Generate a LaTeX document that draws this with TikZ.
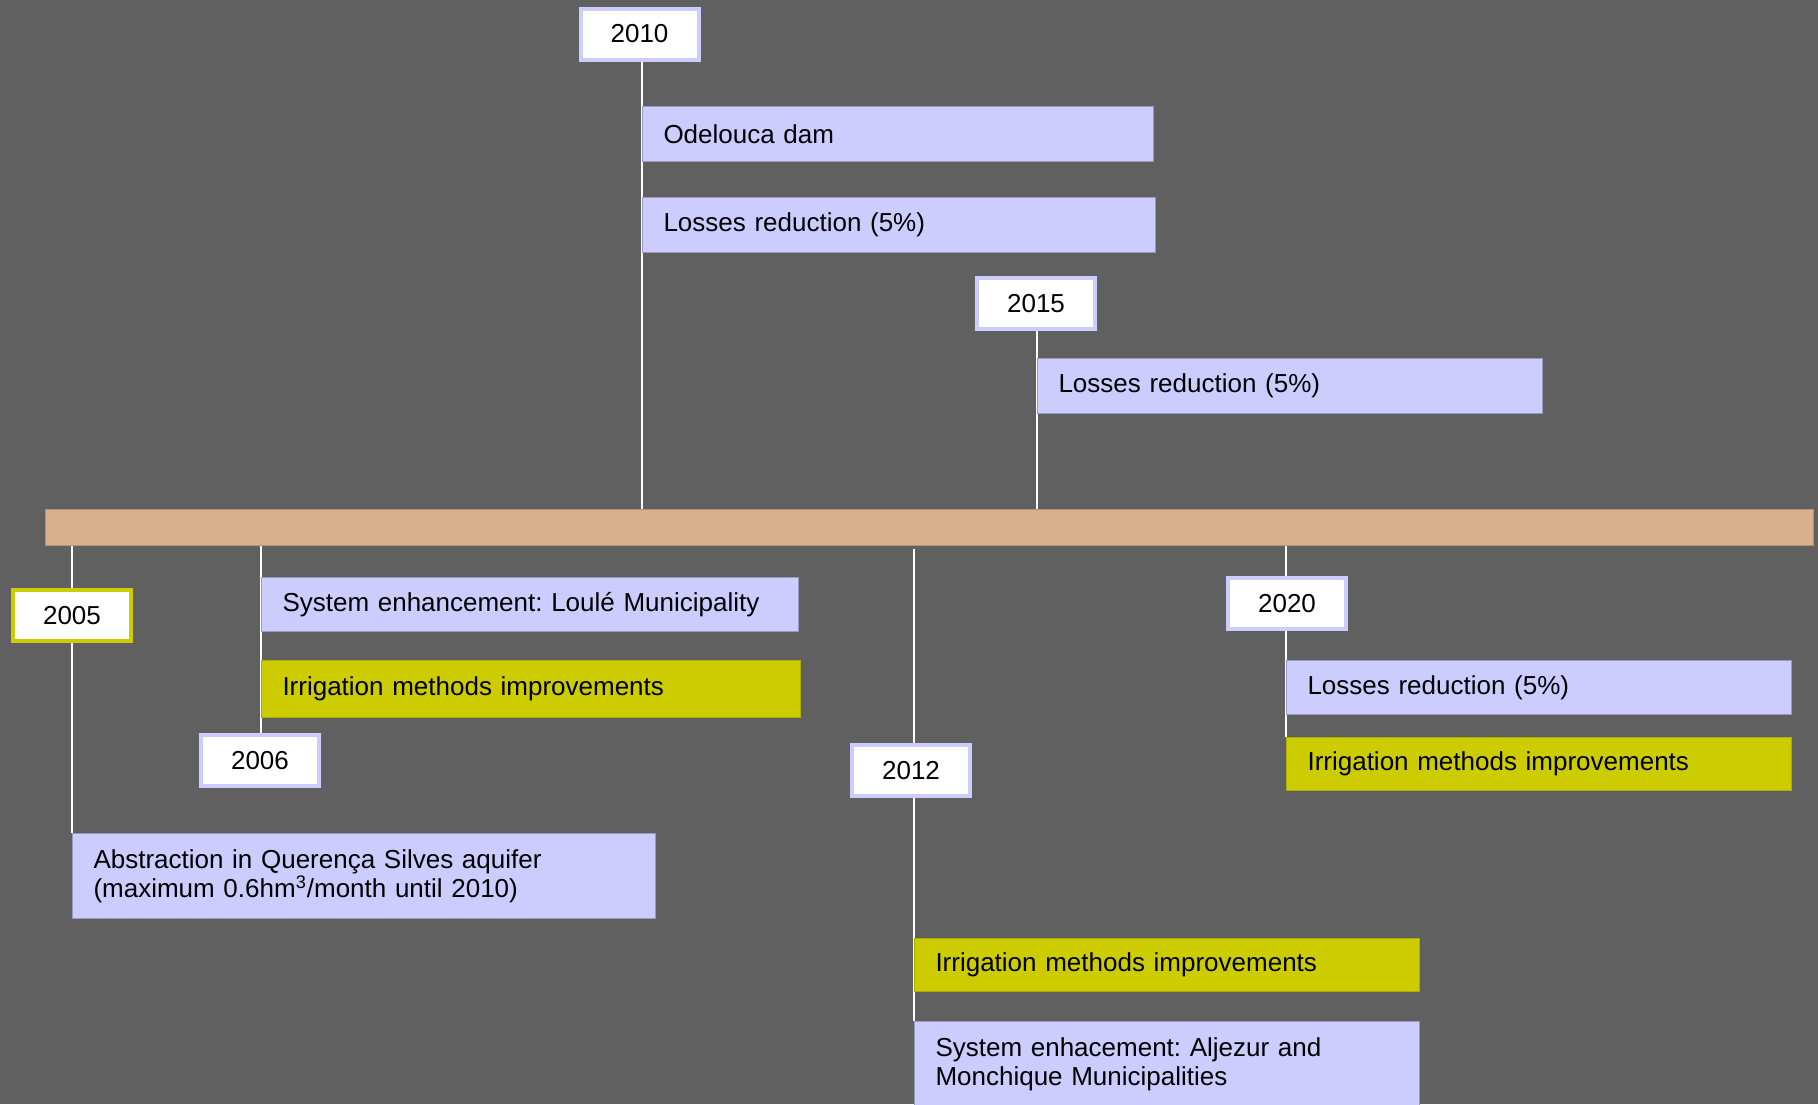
\documentclass[tikz,border=0pt]{standalone}
\usepackage{fontspec}
\setmainfont{Liberation Sans}
\frenchspacing
\definecolor{bg}{HTML}{606060}
\definecolor{lav}{HTML}{CCCCFF}
\definecolor{lavedge}{HTML}{9A9AC0}
\definecolor{yel}{HTML}{CCCC00}
\definecolor{tan}{HTML}{D9B08C}
\definecolor{tanedge}{HTML}{B49274}
\pgfdeclarelayer{background}
\pgfsetlayers{background,main}
\begin{document}
\begin{tikzpicture}[x=0.5pt,y=-0.5pt,
  font=\fontsize{13}{14.5}\selectfont,
  ev/.style={anchor=north west, inner xsep=10.5pt, inner ysep=0pt, align=left, draw=lavedge, line width=0.5pt},
  lavev/.style={ev, fill=lav},
  yelev/.style={ev, fill=yel, draw=yel!85!black},
  year/.style={fill=white, draw=lav, line width=2pt, minimum width=59pt, minimum height=25.5pt, inner sep=0pt},
  yyear/.style={year, draw=yel},
  conn/.style={draw=white, line width=1pt}]
\useasboundingbox (0,0) rectangle (1818,1104);

% timeline bar
\node[fill=tan, draw=tanedge, line width=0.5pt, minimum width=884pt, minimum height=18pt, inner sep=0pt] (bar) at (929,527) {};

% year labels
\node[year] (y2010) at (639.5,34) {2010};
\node[year] (y2015) at (1036,303.5) {2015};
\node[yyear] (y2005) at (72,615.5) {2005};
\node[year] (y2006) at (260,760.5) {2006};
\node[year] (y2012) at (911,770.5) {2012};
\node[year] (y2020) at (1287,603.5) {2020};

% line positions
\coordinate (l2010) at (642,0);
\coordinate (l2015) at (1037,0);
\coordinate (l2005) at (72,0);
\coordinate (l2006) at (261,0);
\coordinate (l2012) at (914,0);
\coordinate (l2020) at (1286,0);
\coordinate (s2012) at (914,549);

% event boxes
\node[lavev, minimum width=255.5pt, minimum height=27.5pt, text width=234.5pt] (odel) at (642,106) {Odelouca dam};
\node[lavev, minimum width=256.5pt, minimum height=27.5pt, text width=235.5pt] (loss10) at (642,197) {Losses reduction (5\%)};
\node[lavev, minimum width=252.5pt, minimum height=27.5pt, text width=231.5pt] (loss15) at (1037,358) {Losses reduction (5\%)};
\node[lavev, minimum width=268.5pt, minimum height=27pt, text width=247.5pt] (loule) at (261,577) {System enhancement: Loulé Municipality};
\node[yelev, minimum width=269.5pt, minimum height=28.5pt, text width=248.5pt] (irr06) at (261,660) {Irrigation methods improvements};
\node[lavev, minimum width=291.5pt, minimum height=42.5pt, text width=270.5pt] (abstr) at (72,833) {Abstraction in Querença Silves aquifer\\(maximum 0.6hm\textsuperscript{3}/month until 2010)};
\node[yelev, minimum width=252.5pt, minimum height=26.5pt, text width=231.5pt] (irr12) at (914,938) {Irrigation methods improvements};
\node[lavev, minimum width=252.5pt, minimum height=43pt, text width=231.5pt] (aljez) at (914,1021) {System enhacement: Aljezur and\\Monchique Municipalities};
\node[lavev, minimum width=252.5pt, minimum height=27pt, text width=231.5pt] (loss20) at (1286,660) {Losses reduction (5\%)};
\node[yelev, minimum width=252.5pt, minimum height=26.5pt, text width=231.5pt] (irr20) at (1286,737) {Irrigation methods improvements};

\begin{pgfonlayer}{background}
\fill[bg] (0,0) rectangle (1818,1104);
\draw[conn] (l2010 |- y2010.south) -- (l2010 |- bar.north);
\draw[conn] (l2015 |- y2015.south) -- (l2015 |- bar.north);
\draw[conn] (l2005 |- bar.south) -- (y2005.north);
\draw[conn] (y2005.south) -- (l2005 |- abstr.north);
\draw[conn] (l2006 |- bar.south) -- (l2006 |- y2006.north);
\draw[conn] (s2012) -- (l2012 |- y2012.north);
\draw[conn] (l2012 |- y2012.south) -- (l2012 |- aljez.north);
\draw[conn] (l2020 |- bar.south) -- (l2020 |- y2020.north);
\draw[conn] (l2020 |- y2020.south) -- (l2020 |- irr20.north);
\end{pgfonlayer}
\end{tikzpicture}
\end{document}
